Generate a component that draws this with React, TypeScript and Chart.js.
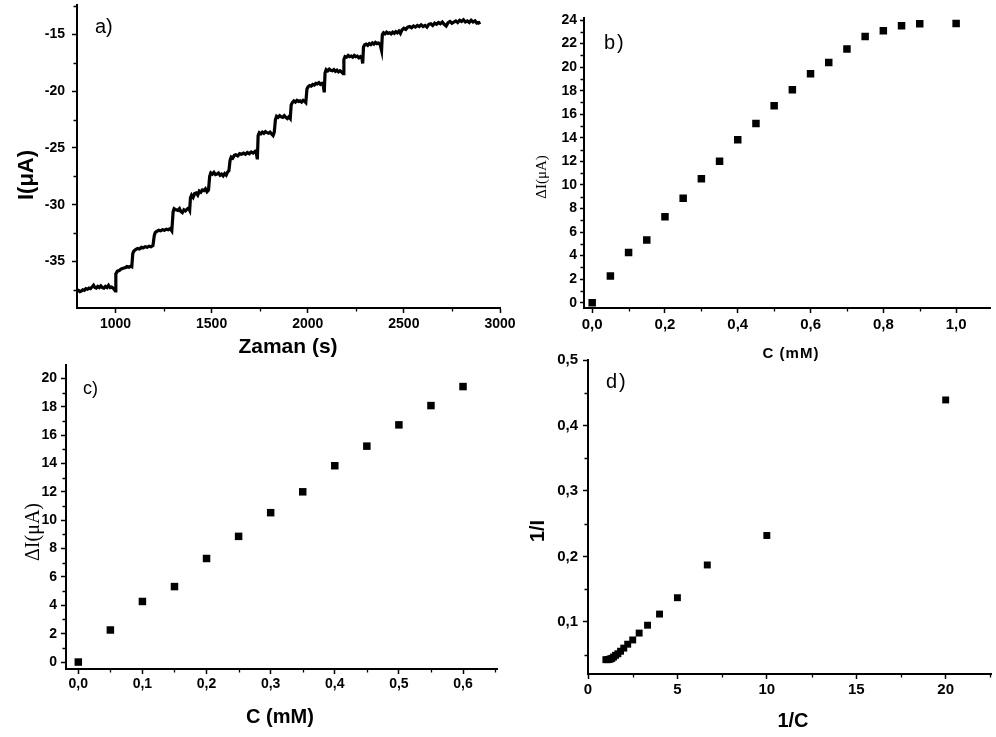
import React, { useEffect, useRef } from 'react';
import { Chart, registerables } from 'chart.js';

Chart.register(...registerables);

const W = 996;
const H = 737;
const SANS = '"Liberation Sans", Arial, sans-serif';
const SERIF = '"Liberation Serif", "Times New Roman", serif';

// ---------- Panel a: amperometric trace (time s, current µA) ----------
const traceA: [number, number][] = [
  [800, -37.5], [808, -37.55], [815, -37.65], [822, -37.6], [830, -37.5], [838, -37.55], [846, -37.4],
  [854, -37.45], [862, -37.35], [870, -37.4], [878, -37.25], [886, -37.1], [893, -37.3], [900, -37.35],
  [908, -37.2], [916, -37.3], [924, -37.15], [932, -37.3], [940, -37.35], [948, -37.2], [956, -37.3],
  [964, -37.1], [972, -37.3], [980, -37.25], [988, -37.35], [995, -37.5], [999, -37.6],
  [1002, -36.1], [1010, -35.85], [1020, -35.8], [1030, -35.65], [1040, -35.6], [1050, -35.55], [1060, -35.45],
  [1070, -35.5], [1080, -35.4], [1085, -35.45],
  [1090, -34.3], [1095, -34.1], [1105, -33.95], [1115, -33.85], [1125, -33.9], [1135, -33.75], [1145, -33.8],
  [1155, -33.7], [1165, -33.75], [1175, -33.65], [1185, -33.7], [1195, -33.6],
  [1202, -32.7], [1207, -32.45], [1215, -32.35], [1225, -32.25], [1235, -32.3], [1245, -32.2], [1255, -32.25],
  [1265, -32.15], [1275, -32.2], [1285, -32.1], [1293, -32.3],
  [1300, -30.6], [1305, -30.35], [1315, -30.45], [1325, -30.5], [1333, -30.35], [1340, -30.6], [1348, -30.7],
  [1356, -30.45], [1364, -30.55], [1372, -30.4], [1380, -30.3], [1386, -30.5],
  [1390, -29.4], [1396, -29.15], [1404, -29.35], [1412, -29.0], [1420, -28.95], [1428, -29.15], [1436, -28.8],
  [1444, -28.9], [1452, -28.7], [1460, -28.75], [1468, -28.6], [1476, -28.85], [1484, -28.7],
  [1490, -27.5], [1496, -27.2], [1504, -27.3], [1512, -27.15], [1520, -27.35], [1528, -27.3], [1536, -27.2],
  [1544, -27.4], [1552, -27.3], [1560, -27.45], [1568, -27.25], [1576, -27.4], [1584, -27.1], [1590, -27.0],
  [1596, -26.1], [1602, -25.8], [1610, -25.9], [1618, -25.65], [1626, -25.6], [1636, -25.7], [1646, -25.5],
  [1656, -25.55], [1666, -25.45], [1676, -25.55], [1686, -25.4], [1696, -25.5], [1706, -25.35], [1716, -25.45],
  [1726, -25.3], [1733, -25.5], [1738, -26.0],
  [1742, -23.9], [1748, -23.65], [1756, -23.75], [1764, -23.6], [1772, -23.7], [1780, -23.55], [1788, -23.65],
  [1796, -23.7], [1804, -23.6], [1812, -23.75], [1820, -23.9], [1826, -23.6],
  [1832, -22.5], [1838, -22.2], [1846, -22.3], [1854, -22.15], [1862, -22.25], [1870, -22.3], [1878, -22.15],
  [1886, -22.3], [1894, -22.4], [1902, -22.25], [1909, -22.4],
  [1914, -21.2], [1920, -21.0], [1928, -20.85], [1936, -20.95], [1944, -20.8], [1952, -20.9], [1960, -20.85],
  [1968, -20.95], [1976, -20.8], [1984, -20.9], [1990, -21.0],
  [1996, -19.8], [2002, -19.6], [2010, -19.5], [2018, -19.55], [2026, -19.4], [2034, -19.45], [2042, -19.3],
  [2050, -19.35], [2058, -19.25], [2066, -19.4], [2074, -19.3], [2080, -19.4], [2086, -20.1],
  [2090, -18.4], [2096, -18.1], [2104, -18.2], [2112, -18.05], [2120, -18.15], [2128, -18.2], [2136, -18.1],
  [2144, -18.25], [2152, -18.15], [2160, -18.3], [2168, -18.2], [2176, -18.3], [2184, -18.45],
  [2188, -17.2], [2194, -16.95], [2202, -17.0], [2210, -16.85], [2218, -16.95], [2226, -16.9], [2234, -17.0],
  [2242, -16.85], [2250, -16.95], [2258, -16.9], [2266, -17.05], [2274, -16.95], [2282, -17.1], [2286, -17.55],
  [2290, -16.1], [2296, -15.9], [2304, -15.85], [2312, -15.95], [2320, -15.8], [2328, -15.9], [2336, -15.75],
  [2344, -15.85], [2352, -15.7], [2360, -15.8], [2368, -15.75], [2376, -15.85], [2384, -16.4],
  [2388, -15.0], [2394, -14.85], [2402, -14.95], [2410, -14.8], [2418, -14.9], [2426, -14.85], [2434, -14.95],
  [2442, -14.8], [2450, -14.9], [2458, -14.75], [2466, -14.85], [2474, -14.7], [2482, -14.9],
  [2490, -14.6], [2500, -14.45], [2510, -14.55], [2520, -14.35], [2530, -14.3], [2540, -14.4], [2550, -14.25],
  [2560, -14.35], [2570, -14.2], [2580, -14.3], [2590, -14.15], [2600, -14.3], [2610, -14.2], [2620, -14.35],
  [2630, -14.1], [2640, -14.05], [2650, -14.2], [2660, -14.0], [2670, -14.1], [2680, -13.95], [2690, -14.05],
  [2700, -13.9], [2710, -14.1], [2720, -14.25], [2730, -13.95], [2740, -13.85], [2750, -14.0], [2760, -13.9],
  [2770, -13.8], [2780, -13.95], [2790, -13.75], [2800, -13.85], [2810, -13.7], [2820, -13.9], [2830, -13.8],
  [2840, -13.95], [2850, -13.75], [2860, -13.9], [2870, -13.8], [2880, -14.0], [2890, -13.95], [2895, -14.1],
];
const aXTicks = [1000, 1500, 2000, 2500, 3000];
const aXMinor = [1250, 1750, 2250, 2750];
const aYTicks = [-35, -30, -25, -20, -15];
const aYMinor = [-37.5, -32.5, -27.5, -22.5, -17.5, -12.5];

// ---------- Panel b: calibration, full range ----------
const bConc = [0, 0.05, 0.1, 0.15, 0.2, 0.25, 0.3, 0.35, 0.4, 0.45, 0.5, 0.55, 0.6, 0.65, 0.7, 0.75, 0.8, 0.85, 0.9, 1.0];
const bDeltaI = [0, 2.26, 4.27, 5.32, 7.3, 8.86, 10.53, 12.0, 13.84, 15.22, 16.72, 18.08, 19.44, 20.4, 21.53, 22.6, 23.09, 23.51, 23.68, 23.7];
const bXTicks = [0, 0.2, 0.4, 0.6, 0.8, 1.0];
const bXMinor = [0.1, 0.3, 0.5, 0.7, 0.9];
const bYTicks = [0, 2, 4, 6, 8, 10, 12, 14, 16, 18, 20, 22, 24];
const bYMinor = [1, 3, 5, 7, 9, 11, 13, 15, 17, 19, 21, 23];

// ---------- Panel c: linear range ----------
const cConc = [0, 0.05, 0.1, 0.15, 0.2, 0.25, 0.3, 0.35, 0.4, 0.45, 0.5, 0.55, 0.6];
const cDeltaI = [0, 2.26, 4.27, 5.32, 7.3, 8.86, 10.53, 12.0, 13.84, 15.22, 16.72, 18.08, 19.42];
const cXTicks = [0, 0.1, 0.2, 0.3, 0.4, 0.5, 0.6];
const cXMinor = [0.05, 0.15, 0.25, 0.35, 0.45, 0.55, 0.65];
const cYTicks = [0, 2, 4, 6, 8, 10, 12, 14, 16, 18, 20];
const cYMinor = [1, 3, 5, 7, 9, 11, 13, 15, 17, 19];

// ---------- Panel d: Lineweaver-Burk ----------
const dInvC = [20, 10, 6.67, 5, 4, 3.33, 2.86, 2.5, 2.22, 2, 1.82, 1.67, 1.54, 1.43, 1.33, 1.25, 1.18, 1.11, 1.0];
const dInvI = [0.439, 0.232, 0.187, 0.137, 0.112, 0.095, 0.083, 0.0725, 0.066, 0.06, 0.0553, 0.0514, 0.049, 0.0464, 0.0443, 0.0435, 0.0428, 0.0424, 0.0424];
const dXTicks = [0, 5, 10, 15, 20];
const dXMinor = [2.5, 7.5, 12.5, 17.5, 22.5];
const dYTicks = [0.1, 0.2, 0.3, 0.4, 0.5];
const dYMinor = [0.05, 0.15, 0.25, 0.35, 0.45];

type Txt = {
  text: string; x: number; y: number; size: number;
  bold?: boolean; serif?: boolean; rotate?: boolean;
  align?: CanvasTextAlign; baseline?: CanvasTextBaseline; spacing?: number;
};

type AxisSpec = {
  min: number; max: number; major: number[]; minor: number[];
  fmt: (v: number) => string; size: number; tl: number; pad: number;
};

type PanelSpec = {
  area: { l: number; t: number; r: number; b: number };
  x: AxisSpec; y: AxisSpec;
  datasets: any[];
  texts: Txt[];
};

const intFmt = (v: number) => String(v);
const comma1 = (v: number) => v.toFixed(1).replace('.', ',');

const sq = (r: number) => ({
  type: 'scatter' as const,
  pointStyle: 'rect',
  pointRadius: r,
  backgroundColor: '#000',
  borderColor: '#000',
  borderWidth: 0,
  showLine: false,
});

const panels: PanelSpec[] = [
  {
    area: { l: 77, t: 5, r: 500, b: 308 },
    x: { min: 800, max: 3000, major: aXTicks, minor: aXMinor, fmt: intFmt, size: 14, tl: 5, pad: 3 },
    y: { min: -39.1, max: -12.4, major: aYTicks, minor: aYMinor, fmt: intFmt, size: 14, tl: 5, pad: 7 },
    datasets: [{
      type: 'line',
      data: traceA.map(([x, y]) => ({ x, y })),
      borderColor: '#000',
      borderWidth: 3.2,
      pointRadius: 0,
      tension: 0,
      fill: false,
    }],
    texts: [
      { text: 'I(\u03bcA)', x: 27, y: 175, size: 22, bold: true, rotate: true },
      { text: 'Zaman (s)', x: 288, y: 347, size: 21, bold: true },
      { text: 'a)', x: 95, y: 33, size: 20, align: 'left', baseline: 'alphabetic' },
    ],
  },
  {
    area: { l: 584, t: 18, r: 996, b: 308 },
    x: { min: -0.0225, max: 1.095, major: bXTicks, minor: bXMinor, fmt: comma1, size: 15, tl: 5, pad: 3 },
    y: { min: -0.45, max: 24.17, major: bYTicks, minor: bYMinor, fmt: intFmt, size: 14, tl: 4, pad: 3 },
    datasets: [{ ...sq(5.3), data: bConc.map((x, i) => ({ x, y: bDeltaI[i] })) }],
    texts: [
      { text: '\u0394I(\u03bcA)', x: 542, y: 177, size: 15, serif: true, rotate: true },
      { text: 'C (mM)', x: 791, y: 354, size: 15, bold: true, spacing: 1 },
      { text: 'b)', x: 604, y: 49, size: 20, align: 'left', baseline: 'alphabetic', spacing: 2 },
    ],
  },
  {
    area: { l: 66, t: 365, r: 497, b: 669 },
    x: { min: -0.0192, max: 0.653, major: cXTicks, minor: cXMinor, fmt: comma1, size: 14, tl: 5, pad: 2 },
    y: { min: -0.49, max: 20.94, major: cYTicks, minor: cYMinor, fmt: intFmt, size: 14, tl: 5, pad: 4 },
    datasets: [{ ...sq(5.3), data: cConc.map((x, i) => ({ x, y: cDeltaI[i] })) }],
    texts: [
      { text: '\u0394I(\u03bcA)', x: 34, y: 532, size: 20, serif: true, rotate: true },
      { text: 'C (mM)', x: 280, y: 717, size: 20, bold: true },
      { text: 'c)', x: 83, y: 394, size: 18, align: 'left', baseline: 'alphabetic' },
    ],
  },
  {
    area: { l: 588, t: 360, r: 996, b: 674 },
    x: { min: 0, max: 22.54, major: dXTicks, minor: dXMinor, fmt: intFmt, size: 15, tl: 5, pad: 2 },
    y: { min: 0.0205, max: 0.5, major: dYTicks, minor: dYMinor, fmt: comma1, size: 15, tl: 5, pad: 5 },
    datasets: [{ ...sq(4.9), data: dInvC.map((x, i) => ({ x, y: dInvI[i] })) }],
    texts: [
      { text: '1/I', x: 538, y: 531, size: 20, bold: true, rotate: true },
      { text: '1/C', x: 793, y: 721, size: 20, bold: true },
      { text: 'd)', x: 606, y: 388, size: 20, align: 'left', baseline: 'alphabetic', spacing: 2 },
    ],
  },
];

function makeScale(ax: AxisSpec, horizontal: boolean, spec: PanelSpec) {
  return {
    type: 'linear' as const,
    position: horizontal ? 'bottom' : 'left',
    min: ax.min,
    max: ax.max,
    afterBuildTicks: (s: any) => {
      s.ticks = ax.major.map((v) => ({ value: v }));
    },
    afterFit: (s: any) => {
      if (horizontal) s.height = H - spec.area.b;
      else s.width = spec.area.l;
      s.paddingLeft = 0;
      s.paddingRight = 0;
      s.paddingTop = 0;
      s.paddingBottom = 0;
    },
    ticks: {
      autoSkip: false,
      maxRotation: 0,
      minRotation: 0,
      padding: ax.pad,
      color: '#000',
      font: { family: SANS, size: ax.size, weight: 'bold' as const },
      callback: (v: any) => ax.fmt(Number(v)),
    },
    grid: {
      display: true,
      drawOnChartArea: false,
      drawTicks: true,
      tickLength: ax.tl,
      tickWidth: 1.5,
      tickColor: '#000',
    },
    border: { display: true, color: '#000', width: 2 },
    title: { display: false },
  };
}

function decorPlugin(spec: PanelSpec) {
  return {
    id: 'panelDecor',
    afterDraw(chart: any) {
      const ctx: CanvasRenderingContext2D = chart.ctx;
      const xs = chart.scales.x;
      const ys = chart.scales.y;
      const a = chart.chartArea;
      ctx.save();
      ctx.strokeStyle = '#000';
      ctx.lineWidth = 1.3;
      ctx.beginPath();
      for (const v of spec.x.minor) {
        if (v < spec.x.min || v > spec.x.max) continue;
        const px = Math.round(xs.getPixelForValue(v)) + 0.5;
        ctx.moveTo(px, a.bottom);
        ctx.lineTo(px, a.bottom + 3.5);
      }
      for (const v of spec.y.minor) {
        if (v < spec.y.min || v > spec.y.max) continue;
        const py = Math.round(ys.getPixelForValue(v)) + 0.5;
        ctx.moveTo(a.left, py);
        ctx.lineTo(a.left - 3.5, py);
      }
      ctx.stroke();
      for (const t of spec.texts) {
        ctx.save();
        ctx.fillStyle = '#000';
        ctx.font = `${t.bold ? 'bold ' : ''}${t.size}px ${t.serif ? SERIF : SANS}`;
        (ctx as any).letterSpacing = `${t.spacing || 0}px`;
        ctx.textAlign = t.align || 'center';
        ctx.textBaseline = t.baseline || 'middle';
        ctx.translate(t.x, t.y);
        if (t.rotate) ctx.rotate(-Math.PI / 2);
        ctx.fillText(t.text, 0, 0);
        ctx.restore();
      }
      ctx.restore();
    },
  };
}

function Panel({ spec }: { spec: PanelSpec }) {
  const ref = useRef<HTMLCanvasElement | null>(null);
  useEffect(() => {
    if (!ref.current) return;
    const chart = new Chart(ref.current, {
      type: 'scatter',
      data: { datasets: spec.datasets },
      options: {
        responsive: false,
        animation: false,
        devicePixelRatio: 1,
        events: [],
        layout: { padding: { left: 0, top: spec.area.t, right: W - spec.area.r, bottom: 0 } },
        plugins: { legend: { display: false }, tooltip: { enabled: false } },
        scales: {
          x: makeScale(spec.x, true, spec) as any,
          y: makeScale(spec.y, false, spec) as any,
        },
      },
      plugins: [decorPlugin(spec)],
    } as any);
    return () => chart.destroy();
  }, [spec]);
  return (
    <canvas
      ref={ref}
      width={W}
      height={H}
      style={{ position: 'absolute', left: 0, top: 0, width: W, height: H }}
    />
  );
}

export default function App() {
  return (
    <div style={{ position: 'fixed', left: 0, top: 0, width: W, height: H, background: '#fff', overflow: 'hidden' }}>
      {panels.map((p, i) => (
        <Panel key={i} spec={p} />
      ))}
    </div>
  );
}
